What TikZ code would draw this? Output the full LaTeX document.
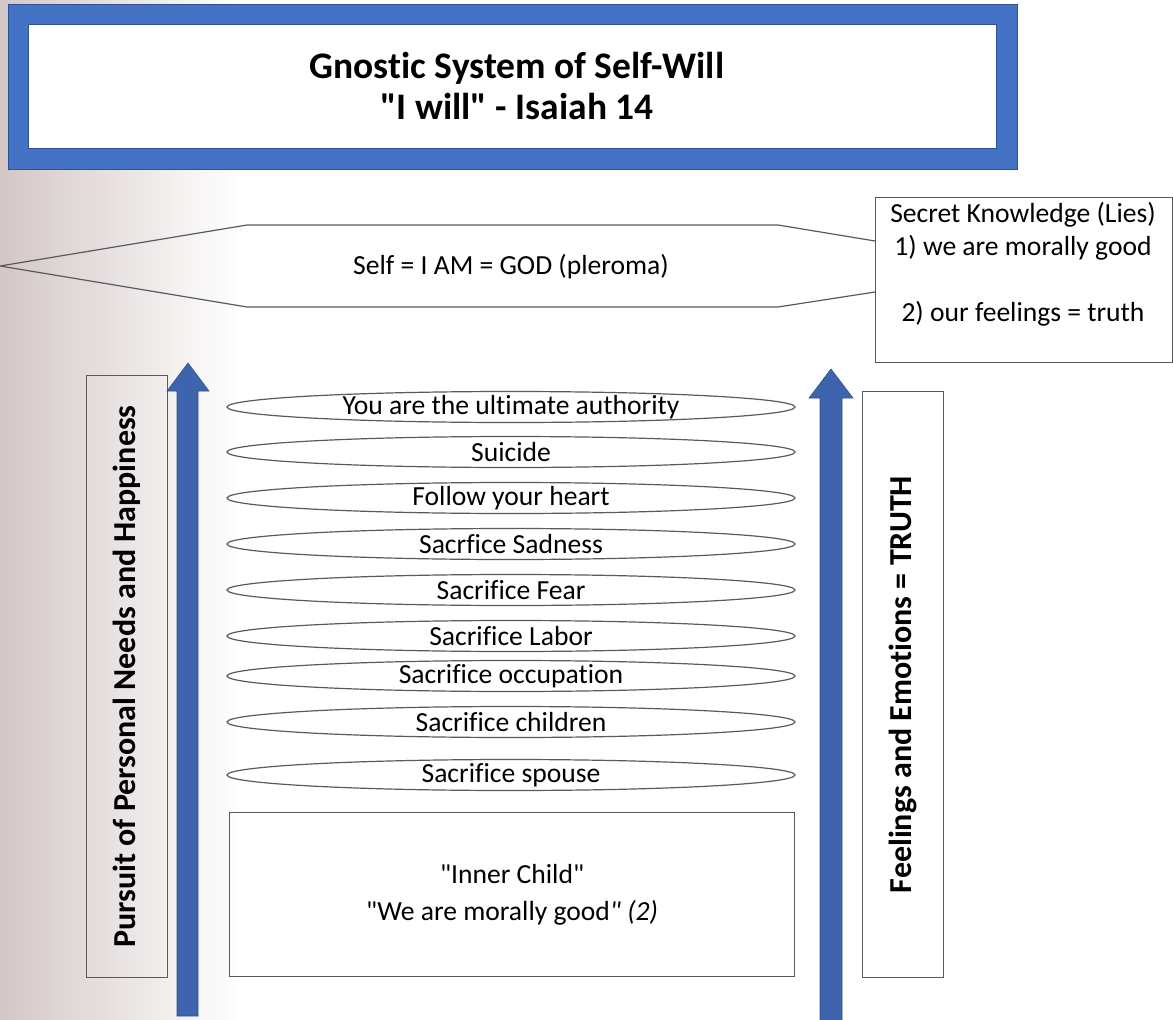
\documentclass[tikz,border=0pt]{standalone}
\usepackage{fontspec}
\setmainfont{Carlito}[Ligatures=NoCommon]
\usetikzlibrary{calc,shapes.geometric}
\definecolor{titleblue}{HTML}{4472C4}
\definecolor{arrowblue}{HTML}{3E64AE}
\definecolor{edgeblue}{HTML}{2F528F}
\definecolor{linegray}{HTML}{5A5A5A}
\definecolor{bgrose}{HTML}{D4C7C7}
\newcommand{\sq}{\textquotedbl}
\begin{document}
\begin{tikzpicture}[x=1pt,y=-1pt,
  txt/.style={font=\fontsize{27.6}{33}\selectfont, text=black, inner sep=0pt},
  ring/.style={ellipse, draw=linegray, line width=1.2pt, fill=white, minimum width=568pt, minimum height=31pt, inner sep=0pt},
  box/.style={draw=linegray, line width=1.2pt},
  blockarrow/.style={fill=arrowblue, draw=edgeblue, line width=0.6pt},
  vlabel/.style={font=\bfseries\fontsize{32}{38}\selectfont, rotate=90, inner sep=0pt}
]
\useasboundingbox (0,0) rectangle (1173,1020);
% background gradient
\shade[left color=bgrose, right color=white] (0,0) rectangle (240,1020);

% title
\node[fill=titleblue, draw=edgeblue, line width=1pt, minimum width=1009pt, minimum height=165pt, anchor=north west, inner sep=0pt] (titleframe) at (8,4) {};
\node[fill=white, draw=edgeblue, line width=1pt, minimum width=968pt, minimum height=124pt, anchor=north west, inner sep=0pt] (titlebox) at (28,24) {};
\node[font=\bfseries\fontsize{37.5}{41}\selectfont, align=center, inner sep=0pt] (title) at (517,86) {Gnostic System of Self-Will\\\sq I will\sq{} - Isaiah 14};

% secret knowledge box
\node[box, fill=white, minimum width=297pt, minimum height=165pt, anchor=north west, inner sep=0pt] (secret) at (875,197) {};
\node[txt, align=center] (secrettext) at (1023,264) {Secret Knowledge (Lies)\\1) we are morally good\\[33pt]2) our feelings = truth};

% hexagon
\coordinate (hexTR) at ($(secret.north west)+(0,44)$);
\coordinate (hexBR) at ($(secret.north west)+(0,95)$);
\draw[linegray, line width=1.2pt] (hexTR) -- (778,225) -- (247,225) -- (0,266) -- (247,307) -- (778,307) -- (hexBR);
\node[txt] (self) at (511,267) {Self = I AM = GOD (pleroma)};

% side boxes
\node[box, minimum width=81pt, minimum height=602pt, anchor=north west, inner sep=0pt] (leftbox) at (86,375) {};
\node[vlabel] (lefttext) at (leftbox.center) {Pursuit of Personal Needs and Happiness};
\node[box, fill=white, minimum width=81pt, minimum height=586pt, anchor=north west, inner sep=0pt] (rightbox) at (862,391) {};
\node[vlabel] (righttext) at (rightbox.center) {Feelings and Emotions = TRUTH};

% block arrows
\draw[blockarrow] (177,1016) -- (177,391) -- (167,391) -- (188,363) -- (209,391) -- (198,391) -- (198,1016) -- cycle;
\draw[blockarrow] (820,1030) -- (820,398) -- (809,398) -- (831,369) -- (853,398) -- (842,398) -- (842,1030) -- cycle;

% rings
\foreach \y/\t/\n in {407/You are the ultimate authority/r1, 452/Suicide/r2, 498/Follow your heart/r3, 544/Sacrfice Sadness/r4, 590/Sacrifice Fear/r5, 636/Sacrifice Labor/r6, 676/Sacrifice occupation/r7, 722/Sacrifice children/r8, 775/Sacrifice spouse/r9}{
  \node[ring] (\n) at (511,\y) {};
  \node[txt] (\n t) at (\n) {\t};
}

% inner child box
\node[box, minimum width=565pt, minimum height=164pt, anchor=north west, inner sep=0pt] (inner) at (229,812) {};
\node[txt, align=center] (innertext) at (inner.center) {\sq Inner Child\sq\\[4pt]\sq We are morally good\textit{\sq{} (2)}};
\end{tikzpicture}
\end{document}
